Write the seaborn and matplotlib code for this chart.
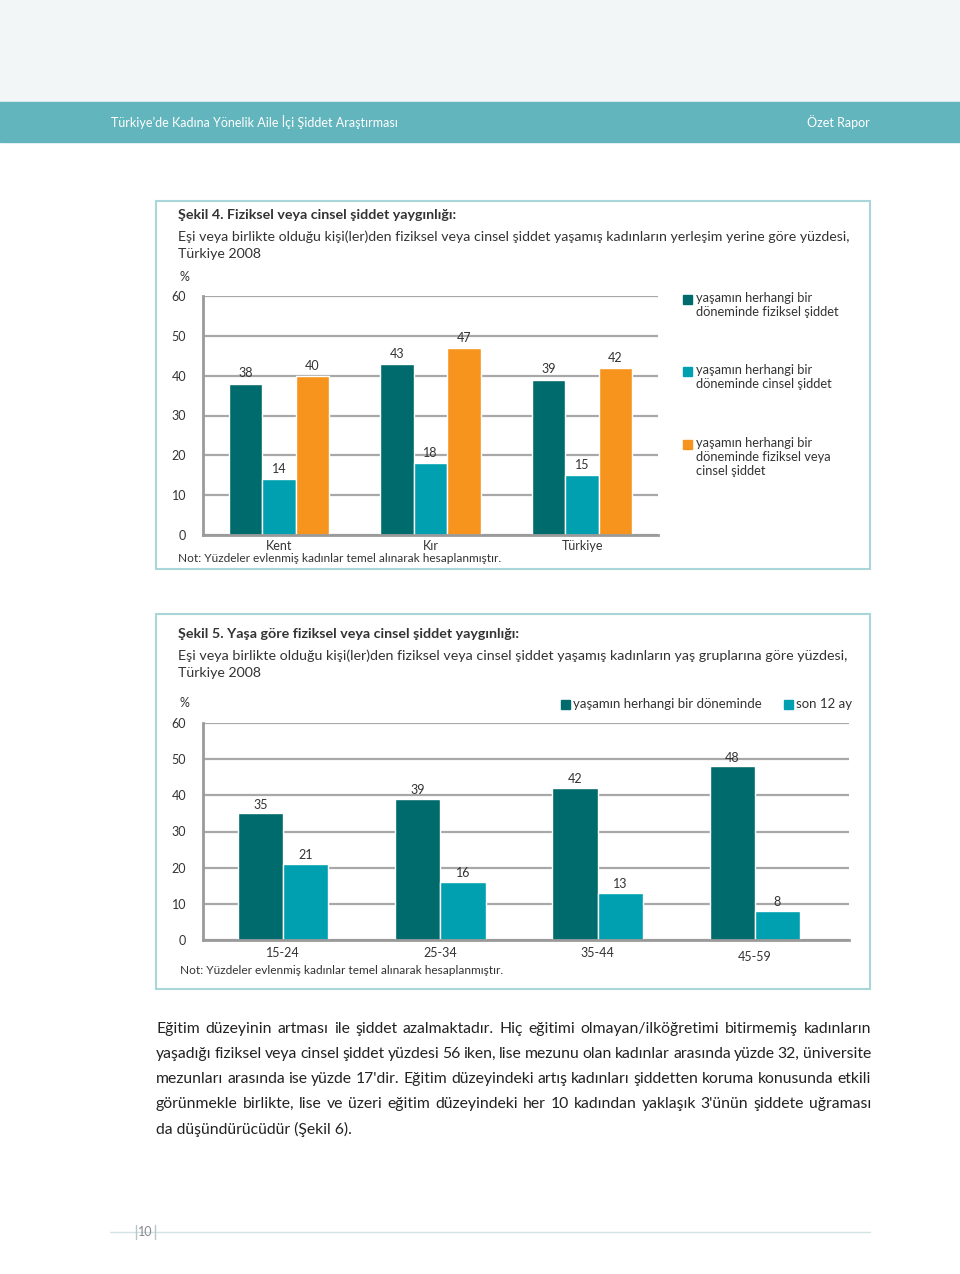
import numpy as np
import pandas as pd
import matplotlib
matplotlib.use("Agg")
import matplotlib.pyplot as plt
from matplotlib.patches import Rectangle
import seaborn as sns

# ==============================
# Data
# ==============================
places = ["Kent", "Kır", "Türkiye"]
fiziksel = [38, 43, 39]
cinsel = [14, 18, 15]
fiz_veya_cins = [40, 47, 42]
legend1 = ["yaşamın herhangi bir\ndöneminde fiziksel şiddet",
           "yaşamın herhangi bir\ndöneminde cinsel şiddet",
           "yaşamın herhangi bir\ndöneminde fiziksel veya\ncinsel şiddet"]

ages = ["15-24", "25-34", "35-44", "45-59"]
yasam_boyu = [35, 39, 42, 48]
son_12_ay = [21, 16, 13, 8]
legend2 = ["yaşamın herhangi bir döneminde", "son 12 ay"]

yticks = [0, 10, 20, 30, 40, 50, 60]

DARK = "#006b6c"
CYAN = "#00a0b0"
ORANGE = "#f7941d"
GRID = "#a8a8a8"
TEXT = "#333333"
BOX = "#a9d6db"

sns.set_style("white")
plt.rcParams["font.family"] = ["Lato", "Open Sans", "DejaVu Sans"]

W, H = 960, 1274
fig = plt.figure(figsize=(9.6, 12.74), dpi=100)


def ax_at(left, top, right, bottom):
    return fig.add_axes([left / W, 1 - bottom / H, (right - left) / W, (bottom - top) / H])


def ftext(x, y, s, **kw):
    kw.setdefault("color", TEXT)
    kw.setdefault("va", "center")
    return fig.text(x / W, 1 - y / H, s, **kw)


def square(x, y, c, size=9):
    fig.patches.append(Rectangle((x / W, 1 - (y + size / 2) / H), size / W, size / H,
                                 transform=fig.transFigure, color=c, zorder=5))


def style_axes(ax, xpad=3):
    ax.set_ylim(0, 60)
    ax.set_yticks(yticks)
    ax.yaxis.grid(True, color=GRID, lw=1.6)
    ax.set_axisbelow(True)
    for s in ["top", "right"]:
        ax.spines[s].set_visible(False)
    for s in ["left", "bottom"]:
        ax.spines[s].set_color("#9a9a9a")
        ax.spines[s].set_linewidth(2)
    ax.tick_params(axis="y", length=5, color=GRID, width=1.5, labelsize=9, labelcolor=TEXT, pad=7)
    ax.tick_params(axis="x", length=0, labelsize=9, labelcolor=TEXT, pad=xpad)
    ax.set_xlabel("")
    ax.set_ylabel("")
    if ax.get_legend() is not None:
        ax.get_legend().remove()


# ==============================
# Page header
# ==============================
fig.patches.append(Rectangle((0, 1 - 102 / H), 1, 102 / H, transform=fig.transFigure,
                             color="#f3f6f6", zorder=0))
fig.patches.append(Rectangle((0, 1 - 142 / H), 1, 40 / H, transform=fig.transFigure,
                             color="#63b5bd", zorder=0))
ftext(111, 122, "Türkiye’de Kadına Yönelik Aile İçi Şiddet Araştırması", color="white", fontsize=9)
ftext(870, 122, "Özet Rapor", color="white", fontsize=9, ha="right")

# ==============================
# Şekil 4
# ==============================
fig.patches.append(Rectangle((156 / W, 1 - 569 / H), 714 / W, 368 / H, transform=fig.transFigure,
                             fill=False, edgecolor=BOX, lw=1.5))
ftext(178, 215, "Şekil 4. Fiziksel veya cinsel şiddet yaygınlığı:", fontsize=10.3, fontweight="bold")
ftext(178, 237, "Eşi veya birlikte olduğu kişi(ler)den fiziksel veya cinsel şiddet yaşamış kadınların "
                "yerleşim yerine göre yüzdesi,", fontsize=10.15)
ftext(178, 254, "Türkiye 2008", fontsize=10.15)
ftext(180, 277, "%", fontsize=9)

df1 = pd.DataFrame({
    "yer": places * 3,
    "seri": [legend1[0]] * 3 + [legend1[1]] * 3 + [legend1[2]] * 3,
    "yuzde": fiziksel + cinsel + fiz_veya_cins,
})
ax1 = ax_at(203, 296, 658, 535)
sns.barplot(data=df1, x="yer", y="yuzde", hue="seri", hue_order=legend1,
            palette=[DARK, CYAN, ORANGE], width=0.66, saturation=1, errorbar=None, ax=ax1)
style_axes(ax1, xpad=3.5)
ax1.set_xlim(-0.5, 2.5)
for c in ax1.containers:
    ax1.bar_label(c, padding=3, fontsize=9, color=TEXT)

for (y, lab), col in zip([(299, legend1[0]), (371, legend1[1]), (444, legend1[2])],
                         [DARK, CYAN, ORANGE]):
    square(683, y, col)
    ftext(696, y - 7.5, lab, fontsize=9.3, va="top", linespacing=1.22)

ftext(178, 559, "Not: Yüzdeler evlenmiş kadınlar temel alınarak hesaplanmıştır.", fontsize=8.6)

# ==============================
# Şekil 5
# ==============================
fig.patches.append(Rectangle((156 / W, 1 - 989 / H), 714 / W, 375 / H, transform=fig.transFigure,
                             fill=False, edgecolor=BOX, lw=1.5))
ftext(178, 634, "Şekil 5. Yaşa göre fiziksel veya cinsel şiddet yaygınlığı:", fontsize=10.3, fontweight="bold")
ftext(178, 656, "Eşi veya birlikte olduğu kişi(ler)den fiziksel veya cinsel şiddet yaşamış kadınların "
                "yaş gruplarına göre yüzdesi,", fontsize=10.3)
ftext(178, 673, "Türkiye 2008", fontsize=10.15)
ftext(180, 703, "%", fontsize=9)

df2 = pd.DataFrame({
    "yas": ages * 2,
    "seri": [legend2[0]] * 4 + [legend2[1]] * 4,
    "yuzde": yasam_boyu + son_12_ay,
})
ax2 = ax_at(203, 723, 849, 940)
sns.barplot(data=df2, x="yas", y="yuzde", hue="seri", hue_order=legend2,
            palette=[DARK, CYAN], width=0.575, saturation=1, errorbar=None, ax=ax2)
style_axes(ax2, xpad=5)
ax2.set_xlim(-0.51, 3.6)
ax2.xaxis.get_major_ticks()[3].set_pad(8)
for c in ax2.containers:
    ax2.bar_label(c, padding=2, fontsize=9, color=TEXT)

square(561, 704, DARK)
ftext(573, 704, legend2[0], fontsize=9.5)
square(784, 704, CYAN)
ftext(796, 704, legend2[1], fontsize=9.5)

ftext(180, 971, "Not: Yüzdeler evlenmiş kadınlar temel alınarak hesaplanmıştır.", fontsize=8.6)

# ==============================
# Body text (justified between x=156 and x=871)
# ==============================
body = [
    "Eğitim düzeyinin artması ile şiddet azalmaktadır. Hiç eğitimi olmayan/ilköğretimi bitirmemiş kadınların",
    "yaşadığı fiziksel veya cinsel şiddet yüzdesi 56 iken, lise mezunu olan kadınlar arasında yüzde 32, üniversite",
    "mezunları arasında ise yüzde 17'dir. Eğitim düzeyindeki artış kadınları şiddetten koruma konusunda etkili",
    "görünmekle birlikte, lise ve üzeri eğitim düzeyindeki her 10 kadından yaklaşık 3'ünün şiddete uğraması",
    "da düşündürücüdür (Şekil 6).",
]
renderer = fig.canvas.get_renderer()
x0, x1 = 156, 871
for i, line in enumerate(body):
    y = 1029 + 25 * i
    if i == len(body) - 1:
        ftext(x0, y, line, fontsize=11.3, color="#222222")
        continue
    words = line.split(" ")
    objs = [ftext(x0, y, w, fontsize=11.3, color="#222222") for w in words]
    widths = [o.get_window_extent(renderer).width for o in objs]
    gap = (x1 - x0 - sum(widths)) / (len(words) - 1)
    xx = x0
    for o, wd in zip(objs, widths):
        o.set_x(xx / W)
        xx += wd + gap

# ==============================
# Footer
# ==============================
fig.lines.append(plt.Line2D([110 / W, 870 / W], [1 - 1232 / H] * 2, transform=fig.transFigure,
                            color="#d3e2e5", lw=1))
for xx in (136, 155):
    fig.lines.append(plt.Line2D([xx / W] * 2, [1 - 1225 / H, 1 - 1239 / H], transform=fig.transFigure,
                                color="#b9c6c9", lw=1))
ftext(145.5, 1232, "10", fontsize=9, color="#888888", ha="center")

fig.savefig("out.png", dpi=100, facecolor="white")
